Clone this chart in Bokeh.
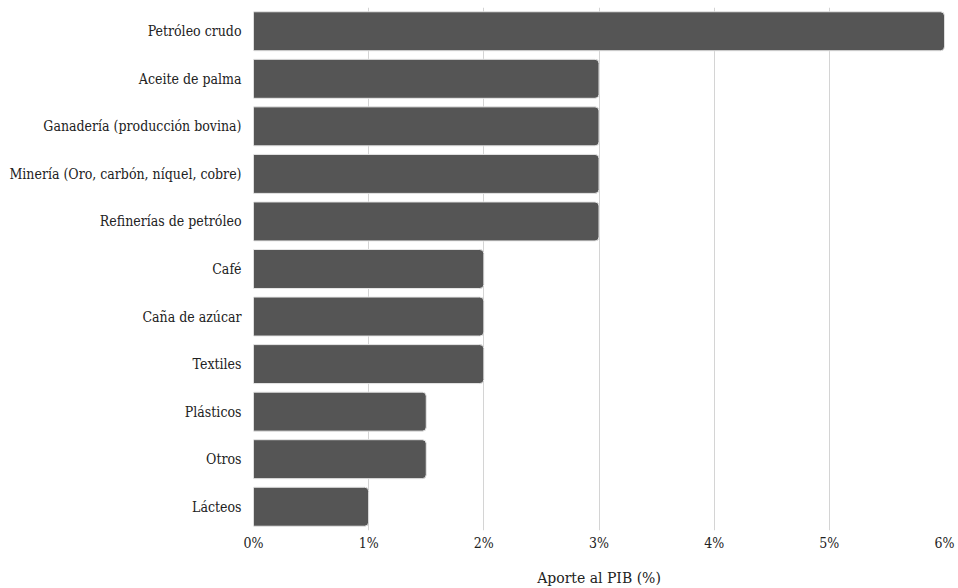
from bokeh.plotting import figure
from bokeh.models import FactorRange, Range1d, FixedTicker, LinearAxis
from bokeh.embed import file_html
from bokeh.resources import INLINE

# Sector contributions to GDP (percent)
sectors = [
    "Petróleo crudo",
    "Aceite de palma",
    "Ganadería (producción bovina)",
    "Minería (Oro, carbón, níquel, cobre)",
    "Refinerías de petróleo",
    "Café",
    "Caña de azúcar",
    "Textiles",
    "Plásticos",
    "Otros",
    "Lácteos",
]
aporte_pib = [6, 3, 3, 3, 3, 2, 2, 2, 1.5, 1.5, 1]
x_ticks = [0, 1, 2, 3, 4, 5, 6]
x_title = "Aporte al PIB (%)"

SERIF = "DejaVu Serif Condensed"

p = figure(
    width=958,
    height=588,
    y_range=FactorRange(factors=list(reversed(sectors)), range_padding=0),
    x_range=Range1d(0, 6),
    output_backend="svg",
    toolbar_location=None,
    min_border_left=253,
    min_border_right=14,
    min_border_top=7,
    min_border_bottom=56,
)

p.hbar(
    y=sectors,
    right=aporte_pib,
    left=0,
    height=0.82,
    fill_color="#555555",
    line_color="#e6e6e6",
    line_width=1,
    border_radius=(0, 4, 4, 0),
)

p.outline_line_color = None
p.ygrid.grid_line_color = None
p.xgrid.grid_line_color = "#d4d4d4"
p.xgrid.grid_line_width = 1

p.xaxis.ticker = FixedTicker(ticks=x_ticks)
p.xaxis.major_label_overrides = {t: f"{t}%" for t in x_ticks}

for ax in (p.xaxis, p.yaxis):
    ax.axis_line_color = None
    ax.major_tick_line_color = None
    ax.minor_tick_line_color = None
    ax.major_tick_out = 0
    ax.major_tick_in = 0
    ax.major_label_text_color = "#222222"
    ax.major_label_text_font = SERIF
    ax.major_label_text_font_size = "14px"

p.xaxis.major_label_standoff = 4
p.yaxis.major_label_standoff = 12

# title-only axis under the tick labels; its bounds set the title a bit right of centre
title_axis = LinearAxis(
    ticker=FixedTicker(ticks=[]),
    bounds=(0.45, 6),
    axis_label=x_title,
    axis_label_standoff=16,
    axis_label_text_font="DejaVu Serif",
    axis_label_text_font_style="normal",
    axis_label_text_font_size="14px",
    axis_label_text_color="#222222",
    axis_line_color=None,
    major_tick_line_color=None,
    minor_tick_line_color=None,
    major_tick_out=0,
    major_tick_in=0,
    minor_tick_out=0,
    major_label_standoff=0,
)
p.add_layout(title_axis, "below")

open("out.html", "w").write(file_html(p, INLINE))
